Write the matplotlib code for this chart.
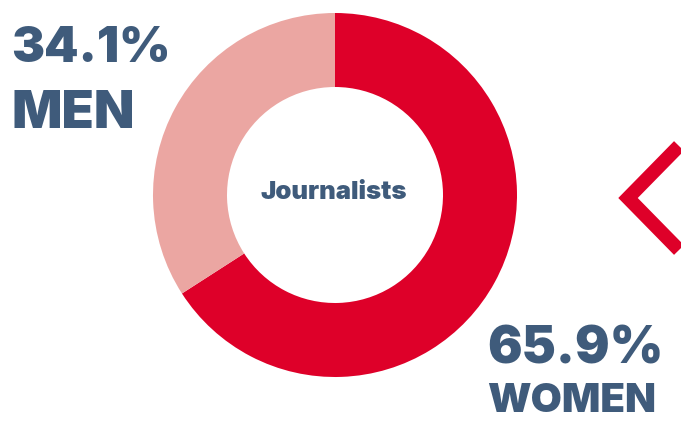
import matplotlib
matplotlib.use("Agg")
import matplotlib.pyplot as plt
from matplotlib.lines import Line2D

# Gender split among journalists (percent)
labels = ["WOMEN", "MEN"]
shares = [65.9, 34.1]
colors = ["#DE0029", "#EBA6A2"]
title = "Journalists"

TEXT_BLUE = "#3F5B7B"
FONT = ["Inter", "DejaVu Sans"]

W, H = 681, 421
fig = plt.figure(figsize=(W / 100, H / 100), dpi=100)
ax = fig.add_axes([0, 0, 1, 1])

# Donut ring, women clockwise from twelve o'clock
ax.pie(shares, colors=colors, startangle=90, counterclock=False,
       center=(335, 226), radius=182,
       wedgeprops=dict(width=74, linewidth=0))
ax.set_xlim(0, W)
ax.set_ylim(0, H)
ax.set_aspect("equal")
ax.axis("off")

style = dict(fontweight=900, color=TEXT_BLUE, family=FONT)

ax.text(334, 222, title, ha="center", va="baseline", fontsize=18.5, **style)

# Percent labels
ax.text(11, 359, f"{shares[1]:.1f}%", ha="left", va="baseline",
        fontsize=35.5, **style)
ax.text(11, 293, labels[1], ha="left", va="baseline", fontsize=38, **style)
ax.text(487, 57, f"{shares[0]:.1f}%", ha="left", va="baseline",
        fontsize=37, **style)
ax.text(487, 1, labels[0], ha="left", va="bottom", fontsize=29, **style)

# Chevron accent
ax.add_line(Line2D([679, 628, 679], [275, 223, 171], color=colors[0],
                   linewidth=10, solid_joinstyle="miter",
                   solid_capstyle="butt"))

fig.savefig("out.png", dpi=100)
